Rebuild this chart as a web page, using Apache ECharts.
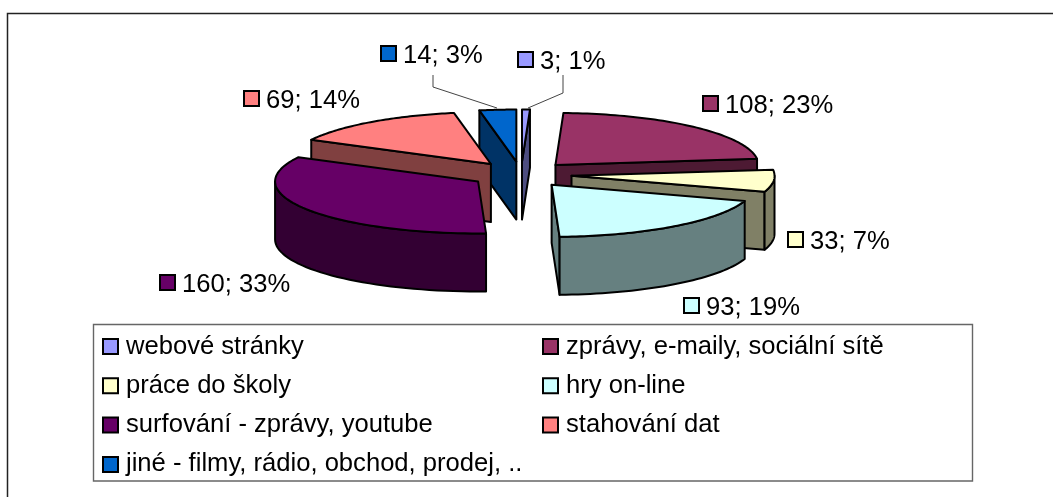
<!DOCTYPE html>
<html>
<head>
<meta charset="utf-8">
<style>html,body{margin:0;padding:0;background:#fff}#c{width:1053px;height:497px}</style>
<script src="https://cdn.jsdelivr.net/npm/echarts@6/dist/echarts.min.js"></script>
</head>
<body>
<div id="c"></div>
<script>
// ---- data ----
const categories = ['webové stránky','zprávy, e-maily, sociální sítě','práce do školy','hry on-line','surfování - zprávy, youtube','stahování dat','jiné - filmy, rádio, obchod, prodej, ..'];
const values = [3,108,33,93,160,69,14];
const topColors = ['#9999FF','#993366','#FFFFCC','#CCFFFF','#660066','#FF8080','#0066CC'];
const sideColors = ['#4D4D80','#4D1A33','#808066','#668080','#330033','#804040','#003366'];
// ---- layout ----
const pie = {cx:521, cy:174.5, rx:203, ry:52, depth:58, explode:0.25};
const drawOrder = [0,6,1,2,3,5,4];
const labelBoxes = [[518,52],[703,96],[788,232],[684,298],[160,275],[244,91],[381,46]];
const font = 'Liberation Sans, Arial, sans-serif';
const fontSize = 25.6;
const swatch = 15;

const total = values.reduce((a,b)=>a+b,0);
let cum = 0;
const slices = values.map(v=>{const s=cum/total*2*Math.PI; cum+=v; return {s, e:cum/total*2*Math.PI};});

function renderSlice(i){
  return function(params, api){
    const {s,e} = slices[i];
    const mid=(s+e)/2;
    const ox=pie.cx+pie.explode*pie.rx*Math.sin(mid), oy=pie.cy-pie.explode*pie.ry*Math.cos(mid);
    const pt=a=>[ox+pie.rx*Math.sin(a), oy-pie.ry*Math.cos(a)];
    const down=p=>[p[0],p[1]+pie.depth];
    const stroke={stroke:'#000',lineWidth:2,lineJoin:'round'};
    const children=[];
    const wall=a=>{const p=pt(a);children.push({type:'polygon',shape:{points:[[ox,oy],p,down(p),[ox,oy+pie.depth]]},style:{fill:sideColors[i],...stroke}});};
    if(Math.sin(s)<0) wall(s);
    if(Math.sin(e)>0) wall(e);
    const a0=Math.max(s,Math.PI/2), a1=Math.min(e,Math.PI*3/2);
    if(a1>a0){
      const up=[],lo=[];
      for(let k=0;k<=40;k++){const p=pt(a0+(a1-a0)*k/40);up.push(p);lo.unshift(down(p));}
      children.push({type:'polygon',shape:{points:up.concat(lo)},style:{fill:sideColors[i],...stroke}});
    }
    const top=[[ox,oy]];
    for(let k=0;k<=60;k++) top.push(pt(s+(e-s)*k/60));
    children.push({type:'polygon',shape:{points:top},style:{fill:topColors[i],...stroke}});
    return {type:'group',children};
  };
}

function renderLabel(i){
  return function(params, api){
    const [x,y]=labelBoxes[i];
    const v=api.value(0);
    return {type:'group',children:[
      {type:'rect',shape:{x,y,width:swatch,height:swatch},style:{fill:topColors[i],stroke:'#000',lineWidth:2}},
      {type:'text',x:x+swatch+7,y:y+swatch/2+2,style:{text:v+'; '+Math.round(v/total*100)+'%',fill:'#000',font:fontSize+'px '+font,verticalAlign:'middle'}}
    ]};
  };
}

const series=[];
drawOrder.forEach((i,n)=>{
  series.push({type:'custom',name:categories[i],coordinateSystem:'none',silent:true,z:2+n,
    itemStyle:{color:topColors[i],borderColor:'#000',borderWidth:2},
    data:[[values[i]]],renderItem:renderSlice(i),animation:false});
});
values.forEach((v,i)=>{
  series.push({type:'custom',name:categories[i],coordinateSystem:'none',silent:true,z:20,
    itemStyle:{color:topColors[i],borderColor:'#000',borderWidth:2},
    data:[[v]],renderItem:renderLabel(i),animation:false});
});

const legendCommon={orient:'vertical',icon:'rect',itemWidth:swatch,itemHeight:swatch,itemGap:13.3,selectedMode:false,padding:0,
  textStyle:{fontFamily:font,fontSize:fontSize,color:'#000',padding:[0,0,0,3]}};
const chart=echarts.init(document.getElementById('c'),null,{renderer:'canvas'});
chart.setOption({
  animation:false,
  backgroundColor:'#fff',
  legend:[
    {...legendCommon,left:102,top:333.5,data:[0,2,4,6].map(i=>categories[i])},
    {...legendCommon,left:542,top:333.5,data:[1,3,5].map(i=>categories[i])}
  ],
  graphic:[
    {type:'polyline',silent:true,z:1,shape:{points:[[7.5,497],[7.5,13.5],[1053,13.5]]},style:{stroke:'#222',lineWidth:1.5,fill:null}},
    {type:'rect',silent:true,z:1,shape:{x:93.5,y:324.5,width:879,height:156.5},style:{fill:'#fff',stroke:'#666',lineWidth:1.4}},
    {type:'polyline',silent:true,z:1,shape:{points:[[433,75],[433,87],[497,108]]},style:{stroke:'#444',lineWidth:1,fill:null}},
    {type:'polyline',silent:true,z:1,shape:{points:[[528,108],[563,93],[563,75]]},style:{stroke:'#444',lineWidth:1,fill:null}}
  ],
  series
});
</script>
</body>
</html>
